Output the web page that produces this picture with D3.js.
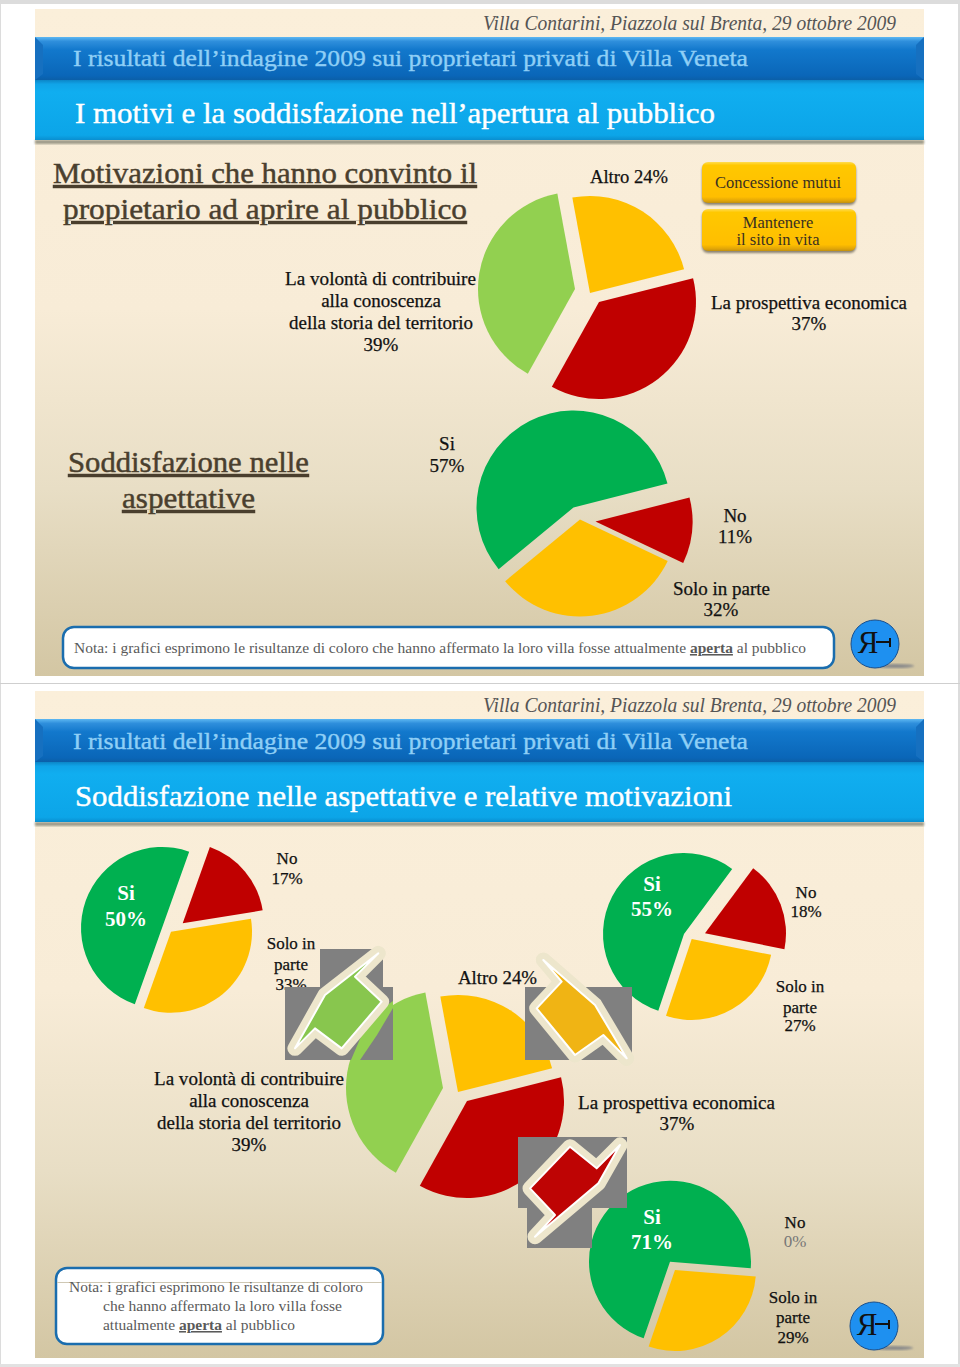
<!DOCTYPE html>
<html><head><meta charset="utf-8">
<script src="https://cdn.jsdelivr.net/npm/d3@7"></script>
<style>html,body{margin:0;padding:0;background:#fff}svg{display:block}text{font-family:"Liberation Serif",serif}</style>
</head><body><div id="c"></div>
<script>
// ---- data ----
const motivazioniLabels = ["Altro","La prospettiva economica","La volontà di contribuire"];
const motivazioniValues = [24,37,39];
const soddisfazioneLabels = ["Si","No","Solo in parte"];
const soddisfazioneValues = [57,11,32];
const pieSi50Values = [50,17,33];
const pieSi55Values = [55,18,27];
const pieSi71Values = [71,0,29];
const mainTitle = "I risultati dell’indagine 2009 sui proprietari privati di Villa Veneta";
const venueLine = "Villa Contarini, Piazzola sul Brenta, 29 ottobre 2009";

// ---- colours ----
const YEL="#FFC000",RED="#C00000",LGR="#92D050",GRN="#00B050";
const motivColors=[YEL,RED,LGR], soddColors=[GRN,RED,YEL];

// ---- layout: start angle (deg), radius, apex of each slice ----
const pies=[
 {v:motivazioniValues,c:motivColors,start:-10.5,r:97,apex:[[590,293],[599,302],[575,289]]},
 {v:soddisfazioneValues,c:soddColors,start:-129.5,r:97,apex:[[573.5,507.5],[595.5,521.5],[580,519.5]]},
 {v:pieSi50Values,c:soddColors,start:-160.4,r:81,apex:[[162,928],[182.7,923.3],[171,931.7]]},
 {v:pieSi55Values,c:soddColors,start:-161.5,r:81,apex:[[684,934],[705,933.3],[691.7,939]]},
 {v:motivazioniValues,c:motivColors,start:-10.5,r:97,apex:[[458,1092],[467,1101],[443,1088]]},
 {v:pieSi71Values,c:soddColors,start:-161,r:81,apex:[[670,1261.7],[670,1261.7],[675,1270]]}
];
const W=960,H=1367;
const svg=d3.select("#c").append("svg").attr("width",W).attr("height",H).attr("viewBox",`0 0 ${W} ${H}`);
const defs=svg.append("defs");
function grad(id,stops){const g=defs.append("linearGradient").attr("id",id).attr("x1",0).attr("x2",0).attr("y1",0).attr("y2",1);
 stops.forEach(s=>g.append("stop").attr("offset",s[0]).attr("stop-color",s[1]));}
grad("bg",[[0,"#FBEFDA"],[0.45,"#F8ECD7"],[0.72,"#E8DEC5"],[1,"#D3C6A3"]]);
grad("b1",[[0,"#5DB8F2"],[0.1,"#2F8FDC"],[0.3,"#1278CC"],[0.9,"#0A66B8"],[1,"#0B5FA8"]]);
grad("b2",[[0,"#0C86C8"],[0.07,"#10A4E8"],[0.2,"#10AEF0"],[0.92,"#0CA5E8"],[1,"#0A8FD0"]]);
grad("btn",[[0,"#FFDC50"],[0.08,"#FFC800"],[0.85,"#FFBE00"],[0.95,"#E0A408"],[1,"#C09010"]]);
defs.append("filter").attr("id","soft").append("feGaussianBlur").attr("stdDeviation",1.2);
defs.append("filter").attr("id","halo").append("feGaussianBlur").attr("stdDeviation",0.7);

// page frame
svg.append("rect").attr("width",W).attr("height",4).attr("fill","#dcdcdc");
svg.append("rect").attr("x",0).attr("y",0).attr("width",1).attr("height",H).attr("fill","#dcdcdc");
svg.append("rect").attr("x",958).attr("y",0).attr("width",2).attr("height",H).attr("fill","#dcdcdc");
svg.append("rect").attr("x",0).attr("y",683).attr("width",W).attr("height",1).attr("fill","#cfcfcf");
svg.append("rect").attr("x",0).attr("y",1364).attr("width",W).attr("height",3).attr("fill","#e2e2e2");

function txt(s,o){const fill=o.fill||"#111";
 const t=svg.append("text").attr("x",o.x).attr("y",o.y).text(s)
  .attr("font-size",o.size||19).attr("fill",fill).attr("text-anchor",o.anchor||"start");
 if(o.w){t.attr("textLength",o.w).attr("lengthAdjust","spacingAndGlyphs");}
 if(o.italic)t.attr("font-style","italic");
 if(o.bold)t.attr("font-weight","bold");
 if(o.ul)t.attr("text-decoration","underline");
 if(o.sw)t.attr("stroke",fill).attr("stroke-width",o.sw);
 return t;}

function panel(y0,ty,sub,subW){
 svg.append("rect").attr("x",35).attr("y",y0+9).attr("width",889).attr("height",667).attr("fill","url(#bg)");
 txt(venueLine,{x:483,y:y0+30,size:22,italic:1,fill:"#555",w:413});
 svg.append("rect").attr("x",35).attr("y",y0+140).attr("width",889).attr("height",4).attr("fill","#9c9a88").attr("filter","url(#soft)");
 svg.append("rect").attr("x",35).attr("y",y0+37).attr("width",889).attr("height",43).attr("fill","url(#b1)");
 svg.append("rect").attr("x",35).attr("y",y0+80).attr("width",889).attr("height",60).attr("fill","url(#b2)");
 svg.append("polygon").attr("points",`35,${y0+37} 43,${y0+45} 43,${y0+74} 35,${y0+80}`).attr("fill","#1670c0");
 svg.append("polygon").attr("points",`924,${y0+37} 916,${y0+45} 916,${y0+74} 924,${y0+80}`).attr("fill","#1670c0");
 txt(mainTitle,{x:73,y:ty+66,size:24,fill:"#8FCFF6",w:675,sw:0.4});
 txt(sub,{x:75,y:ty+123,size:29,fill:"#fff",w:subW,sw:0.4});
}
panel(0,0,"I motivi e la soddisfazione nell’apertura al pubblico",640);
panel(682,683,"Soddisfazione nelle aspettative e relative motivazioni",657);

// headings
const HD="#4A3F2E";
txt("Motivazioni che hanno convinto il",{x:53,y:183,size:30,fill:HD,w:424,ul:1,sw:0.45});
txt("propietario ad aprire al pubblico",{x:63,y:219,size:30,fill:HD,w:404,ul:1,sw:0.45});
txt("Soddisfazione nelle",{x:68,y:472,size:30,fill:HD,w:241,ul:1,sw:0.45});
txt("aspettative",{x:122,y:508,size:30,fill:HD,w:133,ul:1,sw:0.45});

// buttons
[[162,41],[209,42]].forEach(b=>{
 svg.append("rect").attr("x",702).attr("y",b[0]+2).attr("width",154).attr("height",b[1]).attr("rx",6).attr("fill","#8a8270").attr("filter","url(#soft)");
 svg.append("rect").attr("x",702).attr("y",b[0]).attr("width",154).attr("height",b[1]).attr("rx",6).attr("fill","url(#btn)");
});
txt("Concessione mutui",{x:715,y:188,size:16.5,fill:"#3a3020",w:126});
txt("Mantenere",{x:778,y:228,size:16.5,anchor:"middle",fill:"#3a3020"});
txt("il sito in vita",{x:778,y:245,size:16.5,anchor:"middle",fill:"#3a3020"});

// gray backing of the callouts sits beneath nothing but the pies' overlap band below
const rad=d=>d*Math.PI/180;
pies.forEach(p=>{
 const gen=d3.pie().sort(null).startAngle(rad(p.start)).endAngle(rad(p.start+360));
 const arc=d3.arc().innerRadius(0).outerRadius(p.r);
 svg.append("g").selectAll("path").data(gen(p.v)).join("path")
   .attr("d",arc).attr("fill",(d,i)=>p.c[i])
   .attr("transform",(d,i)=>`translate(${p.apex[i][0]},${p.apex[i][1]})`);
});

// pie labels — page one
const S=0.25;
txt(`${motivazioniLabels[0]} ${motivazioniValues[0]}%`,{x:590,y:183,w:78,sw:S});
txt("La volontà di contribuire",{x:285,y:285,w:191,sw:S});
txt("alla conoscenza",{x:381,y:307,anchor:"middle",sw:S});
txt("della storia del territorio",{x:289,y:329,w:184,sw:S});
txt(`${motivazioniValues[2]}%`,{x:381,y:351,anchor:"middle",sw:S});
txt(motivazioniLabels[1],{x:711,y:309,w:196,sw:S});
txt(`${motivazioniValues[1]}%`,{x:809,y:330,anchor:"middle",sw:S});
txt(soddisfazioneLabels[0],{x:447,y:450,anchor:"middle",sw:S});
txt(`${soddisfazioneValues[0]}%`,{x:447,y:472,anchor:"middle",sw:S});
txt(soddisfazioneLabels[1],{x:735,y:522,anchor:"middle",sw:S});
txt(`${soddisfazioneValues[1]}%`,{x:735,y:543,anchor:"middle",sw:S});
txt(soddisfazioneLabels[2],{x:673,y:595,w:97,sw:S});
txt(`${soddisfazioneValues[2]}%`,{x:721,y:616,anchor:"middle",sw:S});

// pie labels — page two
const wl={size:21,fill:"#fff",bold:1,anchor:"middle"}, sm={size:17,anchor:"middle",sw:S};
function stack(x,ys,lines,o){lines.forEach((l,i)=>txt(l,Object.assign({x:x,y:ys[i]},o)));}
stack(126,[900,926],["Si",`${pieSi50Values[0]}%`],wl);
stack(287,[864,884],["No",`${pieSi50Values[1]}%`],sm);
stack(291,[949,970,990],["Solo in","parte",`${pieSi50Values[2]}%`],sm);
stack(652,[891,916],["Si",`${pieSi55Values[0]}%`],wl);
stack(806,[898,917],["No",`${pieSi55Values[1]}%`],sm);
stack(800,[992,1013,1031],["Solo in","parte",`${pieSi55Values[2]}%`],sm);
txt(`${motivazioniLabels[0]} ${motivazioniValues[0]}%`,{x:458,y:984,w:79,sw:S});
txt("La volontà di contribuire",{x:154,y:1085,w:190,sw:S});
txt("alla conoscenza",{x:249,y:1107,anchor:"middle",sw:S});
txt("della storia del territorio",{x:157,y:1129,w:184,sw:S});
txt(`${motivazioniValues[2]}%`,{x:249,y:1151,anchor:"middle",sw:S});
txt(motivazioniLabels[1],{x:578,y:1109,w:197,sw:S});
txt(`${motivazioniValues[1]}%`,{x:677,y:1130,anchor:"middle",sw:S});
stack(652,[1224,1249],["Si",`${pieSi71Values[0]}%`],wl);
stack(795,[1228],["No"],sm);
txt(`${pieSi71Values[1]}%`,{x:795,y:1247,size:17,anchor:"middle",fill:"#777"});
stack(793,[1303,1323,1343],["Solo in","parte",`${pieSi71Values[2]}%`],sm);

// callout arrows (decoration)
function zp(pts){return pts.map(p=>[270+p[0]/3,940+p[1]/3].join(",")).join(" ");}
function callout(rects,poly,color,band){
 rects.forEach(r=>svg.append("rect").attr("x",r[0]).attr("y",r[1]).attr("width",r[2]-r[0]).attr("height",r[3]-r[1]).attr("fill","#808080"));
 if(band)svg.append("polygon").attr("points",band).attr("fill",LGR);
 const pts=zp(poly);
 svg.append("polygon").attr("points",pts).attr("fill","#EDE6CC").attr("stroke","#EDE6CC").attr("stroke-width",15).attr("stroke-linejoin","round").attr("filter","url(#halo)");
 svg.append("polygon").attr("points",pts).attr("fill",color).attr("stroke","#fff").attr("stroke-width",2).attr("stroke-linejoin","round");
}
callout([[320,949,383,987],[285,987,393,1060]],[[325,40],[255,110],[335,185],[215,325],[135,265],[75,325],[165,165]],"#88C64E",
 "393,1001 380,1010 363,1032 351,1060 360,1060 377,1035 393,1008");
callout([[525,987,632,1060]],[[820,60],[975,195],[1070,355],[1000,285],[915,345],[800,205],[875,125]],"#F0B414");
callout([[518,1137,627,1208],[527,1208,592,1248]],[[1050,615],[980,685],[900,620],[780,745],[855,825],[795,890],[985,730]],"#BE0404");

// notes
function noteBox(x,y,w,h){svg.append("rect").attr("x",x).attr("y",y).attr("width",w).attr("height",h).attr("rx",11)
  .attr("fill","#fff").attr("stroke","#1A6DAE").attr("stroke-width",2.5);}
noteBox(63,627,771,41);
const GT="#5a5a5a";
const n=txt("",{x:74,y:653,size:15.5,fill:GT,w:732});
n.append("tspan").text("Nota: i grafici esprimono le risultanze di coloro che hanno affermato la loro villa fosse attualmente ");
n.append("tspan").text("aperta").attr("font-weight","bold").attr("text-decoration","underline");
n.append("tspan").text(" al pubblico");
noteBox(56,1268,327,76);
svg.append("rect").attr("x",57).attr("y",1282).attr("width",325).attr("height",1).attr("fill","#cfc8b4");
txt("Nota: i grafici esprimono le risultanze di coloro",{x:69,y:1292,size:15.5,fill:GT,w:294});
txt("che hanno affermato la loro villa fosse",{x:103,y:1311,size:15.5,fill:GT,w:239});
const n2=txt("",{x:103,y:1330,size:15.5,fill:GT,w:192});
n2.append("tspan").text("attualmente ");
n2.append("tspan").text("aperta").attr("font-weight","bold").attr("text-decoration","underline");
n2.append("tspan").text(" al pubblico");

// logos
function logo(cx,cy){
 svg.append("ellipse").attr("cx",cx+20).attr("cy",cy+22).attr("rx",19).attr("ry",2).attr("fill","#8a8a8a").attr("filter","url(#soft)");
 svg.append("circle").attr("cx",cx).attr("cy",cy).attr("r",24).attr("fill","#1E90F0").attr("stroke","#1A4F8C").attr("stroke-width",1);
 txt("Я",{x:cx-7,y:cy+9,size:31,fill:"#111",anchor:"middle"});
 svg.append("rect").attr("x",cx+1).attr("y",cy-3).attr("width",15).attr("height",2).attr("fill","#111");
 svg.append("rect").attr("x",cx+14).attr("y",cy-6).attr("width",2).attr("height",9).attr("fill","#111");
}
logo(875,644); logo(874,1326);
</script></body></html>
